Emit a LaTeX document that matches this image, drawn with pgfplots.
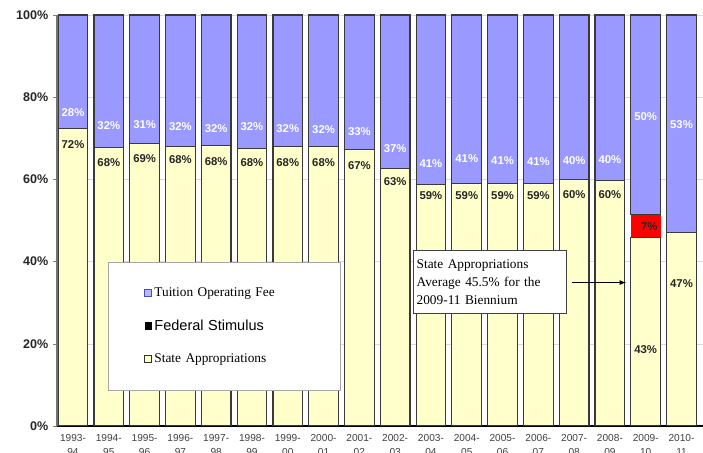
\documentclass[border=0pt]{standalone}
\usepackage{pgfplots}
\usepackage{pgfplotstable}
\pgfplotsset{compat=1.18}
\usepackage{fontspec}
\setmainfont{Liberation Sans}
\newfontfamily\timesfont{Liberation Serif}
\definecolor{tuition}{HTML}{9999FF}
\definecolor{stateap}{HTML}{FFFFCC}
\definecolor{fed}{HTML}{FF0000}
\definecolor{bord}{HTML}{3A3A3A}

\pgfplotstableread{
x state fed tuition
0  72.3 0   27.7
1  67.8 0   32.2
2  68.8 0   31.2
3  68.0 0   32.0
4  68.3 0   31.7
5  67.6 0   32.4
6  68.0 0   32.0
7  68.0 0   32.0
8  67.2 0   32.8
9  62.7 0   37.3
10 58.7 0   41.3
11 59.0 0   41.0
12 59.0 0   41.0
13 59.0 0   41.0
14 60.0 0   40.0
15 59.7 0   40.3
16 45.8 5.6 48.6
17 47.0 0   53.0
}\datatable

\newcommand\tlab[3]{\node[font=\bfseries\fontsize{8.5}{10}\selectfont, text=white] at (axis cs:#1,#2) {#3\%};}
\newcommand\slab[3]{\node[font=\bfseries\fontsize{8.5}{10}\selectfont, text=black!85] at (axis cs:#1,#2) {#3\%};}

\begin{document}
\begin{tikzpicture}
\begin{axis}[
  at={(0,0)}, anchor=south west,
  scale only axis, width=484.5pt, height=308.25pt,
  ybar stacked, bar width=0.83,
  xmin=-0.447, xmax=17.6, ymin=0, ymax=100,
  axis x line*=bottom, axis y line*=left,
  x axis line style={black, line width=1pt},
  y axis line style={black!55, line width=0.8pt},
  ytick={0,20,40,60,80,100},
  yticklabels={0\%,20\%,40\%,60\%,80\%,100\%},
  yticklabel style={font=\bfseries\fontsize{9.4}{11}\selectfont, text=black!85},
  ymajorgrids, grid style={black!15},
  tick align=outside, major tick length=3pt,
  ytick style={black!50},
  xtick={0,...,17},
  xticklabels={{1993-\\94},{1994-\\95},{1995-\\96},{1996-\\97},{1997-\\98},{1998-\\99},{1999-\\00},{2000-\\01},{2001-\\02},{2002-\\03},{2003-\\04},{2004-\\05},{2005-\\06},{2006-\\07},{2007-\\08},{2008-\\09},{2009-\\10},{2010-\\11}},
  xticklabel style={align=center, font=\fontsize{7.6}{10.5}\selectfont, text=black!75},
  xtick style={draw=none},
  reverse legend,
  legend style={at={(rel axis cs:0.079,0.399)}, anchor=north west, draw=black!35, fill=white,
    inner xsep=27pt, inner ysep=17pt, row sep=12pt,
    nodes={text width=110pt, align=left}},
  legend cell align=left,
]
\addplot[fill=stateap, draw=bord, line width=0.9pt,
  legend image code/.code={\draw[black!80, fill=stateap, line width=0.4pt] (0pt,-2.5pt) rectangle (5pt,2.5pt);}]
  table[x=x, y=state] {\datatable};
\addlegendentry{\timesfont\fontsize{10}{12}\selectfont State Appropriations}
\addplot[fill=fed, draw=none,
  legend image code/.code={\fill[black] (0pt,-2.7pt) rectangle (5.4pt,2.7pt);}]
  table[x=x, y=fed] {\datatable};
\addlegendentry{\fontsize{10.9}{13}\selectfont Federal Stimulus}
\addplot[fill=tuition, draw=bord, line width=0.9pt,
  legend image code/.code={\draw[blue!60!black!70, fill=tuition!70, line width=0.4pt] (0pt,-2.5pt) rectangle (5pt,2.5pt);}]
  table[x=x, y=tuition] {\datatable};
\addlegendentry{\timesfont\fontsize{10}{12}\selectfont Tuition Operating Fee}
\end{axis}

\begin{axis}[
  at={(0,0)}, anchor=south west,
  scale only axis, width=484.5pt, height=308.25pt,
  xmin=-0.447, xmax=17.6, ymin=0, ymax=100,
  hide axis, clip=false,
]
% tuition labels
\tlab{0}{76.3}{28}\tlab{1}{73.2}{32}\tlab{2}{73.4}{31}\tlab{3}{72.9}{32}\tlab{4}{72.4}{32}
\tlab{5}{72.9}{32}\tlab{6}{72.4}{32}\tlab{7}{72.2}{32}\tlab{8}{71.7}{33}\tlab{9}{67.6}{37}
\tlab{10}{63.9}{41}\tlab{11}{65.1}{41}\tlab{12}{64.6}{41}\tlab{13}{64.4}{41}\tlab{14}{64.6}{40}
\tlab{15}{64.9}{40}\tlab{16}{75.4}{50}\tlab{17}{73.4}{53}
% state labels
\slab{0}{68.5}{72}\slab{1}{64.1}{68}\slab{2}{65.1}{69}\slab{3}{64.9}{68}\slab{4}{64.4}{68}
\slab{5}{64.1}{68}\slab{6}{64.1}{68}\slab{7}{64.1}{68}\slab{8}{63.4}{67}\slab{9}{59.5}{63}
\slab{10}{56.1}{59}\slab{11}{56.1}{59}\slab{12}{56.1}{59}\slab{13}{56.1}{59}\slab{14}{56.3}{60}
\slab{15}{56.3}{60}\slab{16}{18.5}{43}\slab{17}{34.6}{47}
\slab{16.1}{48.6}{7}

% annotation
\node[draw=black!75, fill=white, anchor=north west, align=left, inner sep=2.5pt,
  text width=110pt, minimum height=46.5pt,
  font=\timesfont\fontsize{10}{13.5}\selectfont] at (axis cs:9.5,42.7)
  {State Appropriations\\Average 45.5\% for the\\2009-11 Biennium};
\draw[-latex, black, line width=0.7pt] (axis cs:13.94,34.9) -- (axis cs:15.45,34.9);
\end{axis}
\pgfresetboundingbox
\path[use as bounding box] (-42.75pt,-20.25pt) rectangle (484.5pt,319.5pt);
\end{tikzpicture}
\end{document}
